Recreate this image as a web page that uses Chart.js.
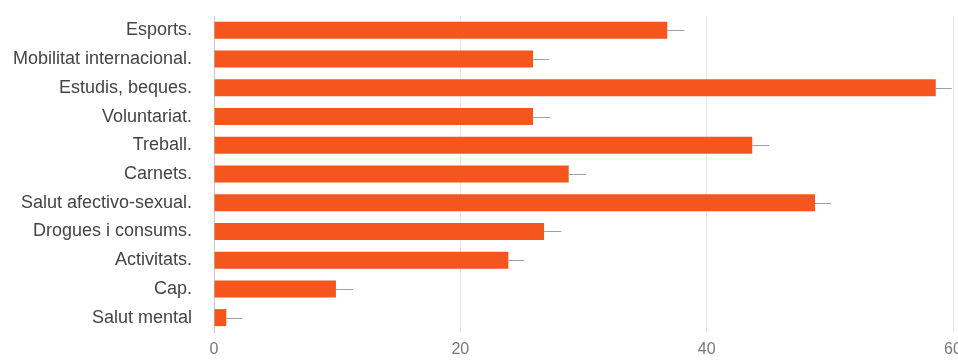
<!DOCTYPE html>
<html>
<head>
<meta charset="utf-8">
<script src="https://cdn.jsdelivr.net/npm/chart.js@4"></script>
<style>
  html, body { margin: 0; padding: 0; background: #fff; }
  #wrap { width: 958px; height: 361px; }
</style>
</head>
<body>
<div id="wrap"><canvas id="chart"></canvas></div>
<script>
const categories = [
  'Esports.', 'Mobilitat internacional.', 'Estudis, beques.', 'Voluntariat.',
  'Treball.', 'Carnets.', 'Salut afectivo-sexual.', 'Drogues i consums.',
  'Activitats.', 'Cap.', 'Salut mental'
];
const values = [36.8, 25.9, 58.6, 25.9, 43.7, 28.8, 48.8, 26.8, 23.9, 9.9, 1.0];
const errors = [1.4, 1.3, 1.3, 1.4, 1.4, 1.4, 1.3, 1.4, 1.3, 1.4, 1.3];
const xTicks = [0, 20, 40, 60];

// thin whisker to the right of every bar
const errorBars = {
  id: 'errorBars',
  afterDatasetsDraw(chart) {
    const ctx = chart.ctx;
    const x = chart.scales.x;
    const meta = chart.getDatasetMeta(0);
    ctx.save();
    ctx.strokeStyle = '#a0a0a0';
    ctx.lineWidth = 1;
    meta.data.forEach((bar, i) => {
      const x0 = x.getPixelForValue(values[i]);
      const x1 = x.getPixelForValue(values[i] + errors[i]);
      ctx.beginPath();
      ctx.moveTo(x0, Math.round(bar.y) + 0.5);
      ctx.lineTo(x1, Math.round(bar.y) + 0.5);
      ctx.stroke();
    });
    ctx.restore();
  }
};

const ctx = document.getElementById('chart').getContext('2d');
new Chart(ctx, {
  type: 'bar',
  data: {
    labels: categories,
    datasets: [{
      data: values,
      backgroundColor: '#f4561d',
      barPercentage: 0.74,
      categoryPercentage: 0.8,
    }]
  },
  options: {
    indexAxis: 'y',
    responsive: true,
    maintainAspectRatio: false,
    animation: false,
    layout: { padding: { top: 16, right: 0, bottom: 0, left: 0 } },
    plugins: { legend: { display: false }, tooltip: { enabled: false } },
    scales: {
      x: {
        min: 0,
        max: 60,
        afterBuildTicks: scale => { scale.ticks = xTicks.map(v => ({ value: v })); },
        afterFit: scale => { scale.height = 29; scale.paddingRight = 5; scale.paddingLeft = 0; },
        grid: { color: '#e8e8e8', drawTicks: false },
        border: { display: false },
        ticks: { color: '#777', font: { family: 'Arial, Liberation Sans', size: 16 }, padding: 8 }
      },
      y: {
        grid: { display: false },
        border: { color: '#c8c8c8' },
        afterFit: scale => { scale.width = 214; scale.paddingTop = 0; scale.paddingBottom = 0; },
        ticks: { color: '#444', font: { family: 'Arial, Liberation Sans', size: 18 }, padding: 14 }
      }
    }
  },
  plugins: [errorBars]
});
</script>
</body>
</html>
